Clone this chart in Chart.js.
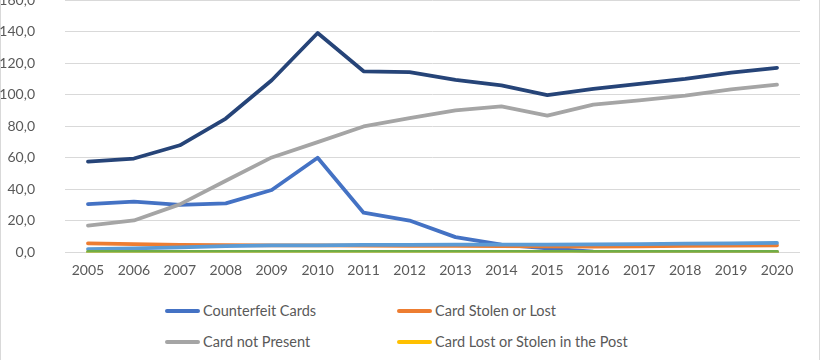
<!DOCTYPE html>
<html>
<head>
<meta charset="utf-8">
<script src="https://cdn.jsdelivr.net/npm/chart.js@4/dist/chart.umd.min.js"></script>
<style>
html, body { margin: 0; padding: 0; background: #fff; overflow: hidden; width: 820px; height: 360px; }
#frame { position: absolute; left: 0; top: -20px; width: 818px; height: 420px; border: 1px solid #d9d9d9; }
#wrap { position: absolute; left: 0; top: -24px; width: 820px; height: 323px; }
#legend { position: absolute; left: 165px; top: 301px; width: 480px; font-family: Lato, sans-serif; font-size: 14.5px; color: #595959; }
.item { position: absolute; height: 20px; line-height: 20px; white-space: nowrap; }
.sw { display: inline-block; width: 35px; height: 4px; border-radius: 2px; vertical-align: middle; margin-right: 3px; position: relative; top: -1px; }
</style>
</head>
<body>
<div id="frame"></div>
<div id="wrap"><canvas id="mychart"></canvas></div>
<div id="legend"></div>
<script>
var years = ['2005','2006','2007','2008','2009','2010','2011','2012','2013','2014','2015','2016','2017','2018','2019','2020']
var seriesNames = ['Counterfeit Cards','Card Stolen or Lost','Card not Present','Card Lost or Stolen in the Post','Card ID Theft','Other','Total']
var seriesColors = ['#4472C4','#ED7D31','#A5A5A5','#FFC000','#5B9BD5','#70AD47','#264478']

var counterfeit = [30.7, 32.2, 30.2, 31.1, 39.6, 60.1, 25.2, 20.2, 9.7, 5.0, 2.5, 0.5, 0.3, 0.3, 0.3, 0.3]
var stolenLost = [5.8, 5.3, 4.8, 4.6, 4.5, 4.4, 4.3, 4.2, 4.1, 4.0, 3.8, 3.7, 3.9, 4.1, 4.3, 4.5]
var notPresent = [17.0, 20.3, 30.5, 45.5, 60.3, 70.0, 80.0, 85.3, 90.2, 92.7, 86.8, 93.8, 96.5, 99.5, 103.5, 106.5]
var lostInPost = [0.1, 0.1, 0.1, 0.1, 0.1, 0.1, 0.1, 0.1, 0.1, 0.1, 0.1, 0.1, 0.1, 0.1, 0.1, 0.1]
var idTheft = [2.1, 2.5, 3.2, 4.0, 4.5, 4.5, 4.7, 4.8, 5.0, 5.0, 5.0, 5.1, 5.3, 5.6, 5.8, 6.0]
var other = [0.3, 0.3, 0.3, 0.3, 0.3, 0.3, 0.3, 0.3, 0.3, 0.3, 0.3, 0.3, 0.3, 0.3, 0.3, 0.3]
var total = [57.7, 59.6, 68.0, 85.0, 109.3, 139.3, 115.0, 114.5, 109.6, 106.0, 99.9, 103.8, 107.0, 110.2, 114.2, 117.2]

var allValues = [counterfeit, stolenLost, notPresent, lostInPost, idTheft, other, total]

var datasets = []
for (var i = 0; i < allValues.length; i++) {
    datasets.push({
        label: seriesNames[i],
        data: allValues[i],
        borderColor: seriesColors[i],
        backgroundColor: seriesColors[i],
        borderWidth: 3.75,
        borderCapStyle: 'round',
        borderJoinStyle: 'round',
        pointRadius: 0,
        tension: 0,
        fill: false,
        order: allValues.length - i   // later series on top, like Excel
    })
}

Chart.defaults.font.family = 'Lato, sans-serif'
Chart.defaults.color = '#595959'

const ctx = document.getElementById('mychart')
var myLineChart = new Chart(ctx, {
    type: 'line',
    data: { labels: years, datasets: datasets },
    options: {
        responsive: true,
        maintainAspectRatio: false,
        animation: false,
        layout: { padding: { top: 12, right: 20, bottom: 8, left: 0 } },
        plugins: { legend: { display: false }, tooltip: { enabled: false } },
        scales: {
            x: {
                offset: true,
                grid: { display: false, drawTicks: false },
                border: { display: false },
                ticks: { padding: 10, font: { size: 14 }, maxRotation: 0 }
            },
            y: {
                min: 0,
                max: 160,
                grid: { color: '#d9d9d9', lineWidth: 1, drawTicks: false },
                border: { display: false },
                ticks: {
                    stepSize: 20,
                    padding: 30,
                    font: { size: 14 },
                    callback: function(v) { return v.toFixed(1).replace('.', ',') }
                },
                afterFit: function(scale) { scale.width = 65 }
            }
        }
    }
})

// the original picture is cropped at the top: plot top sits at y=0, zero line at y=252
var wrap = document.getElementById('wrap')
var h = 323
for (var k = 0; k < 3; k++) {
    var ca = myLineChart.chartArea
    h = h + (252 - (ca.bottom - ca.top))
    wrap.style.height = h + 'px'
    wrap.style.top = (-ca.top) + 'px'
    myLineChart.resize()
}
wrap.style.top = (-myLineChart.chartArea.top) + 'px'

// legend in two columns, like the original
var legend = document.getElementById('legend')
for (var j = 0; j < seriesNames.length; j++) {
    var item = document.createElement('div')
    item.className = 'item'
    item.style.left = (j % 2) * 232 + 'px'
    item.style.top = Math.floor(j / 2) * 31 + 'px'
    item.innerHTML = '<span class="sw" style="background:' + seriesColors[j] + '"></span>' + seriesNames[j]
    legend.appendChild(item)
}
</script>
</body>
</html>
